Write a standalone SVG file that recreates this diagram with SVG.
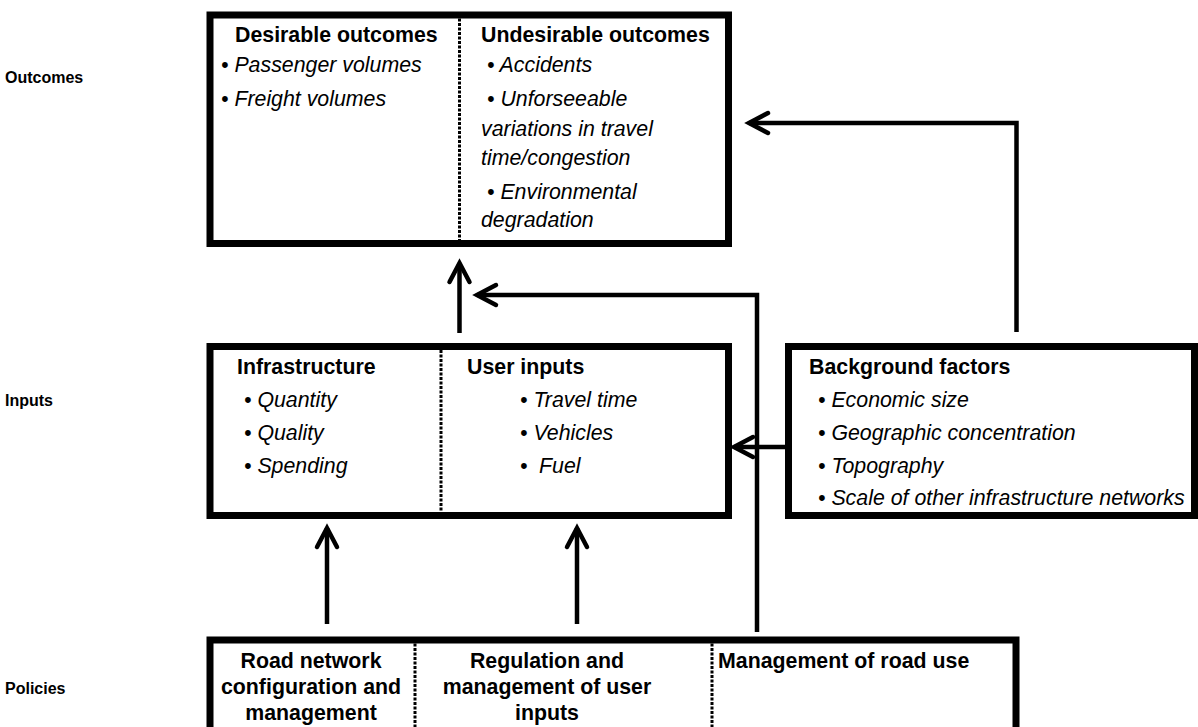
<svg xmlns="http://www.w3.org/2000/svg" width="1198" height="727" viewBox="0 0 1198 727">
<style>
.box{fill:#fff;stroke:#000;stroke-width:7}
.div{stroke:#000;stroke-width:3;stroke-dasharray:3 1.5}
.h{font-family:"Liberation Sans",Arial,sans-serif;font-weight:bold;font-size:21.33px;fill:#000}
.i{font-family:"Liberation Sans",Arial,sans-serif;font-style:italic;font-size:21.33px;fill:#000}
.lab{font-family:"Liberation Sans",Arial,sans-serif;font-weight:bold;font-size:16px;fill:#000}
.c{fill:none;stroke:#000;stroke-width:4.5}
</style>
<defs>
<marker id="ah" markerUnits="userSpaceOnUse" viewBox="-26 -15 30 30" refX="0" refY="0" markerWidth="30" markerHeight="30" orient="auto" overflow="visible">
<path d="M-19,-10 L0,0 L-19,10" fill="none" stroke="#000" stroke-width="4.5" stroke-linecap="round"/>
</marker>
</defs>
<rect width="1198" height="727" fill="#fff"/>
<g id="labels">
<text class="lab" x="5" y="83">Outcomes</text>
<text class="lab" x="5" y="406">Inputs</text>
<text class="lab" x="5" y="694">Policies</text>
</g>
<g id="outcomes">
<rect class="box" x="210" y="15" width="518.5" height="228.5"/>
<line class="div" x1="459.5" y1="18.5" x2="459.5" y2="240"/>
<text class="h" x="235" y="42">Desirable outcomes</text>
<text class="i" x="221" y="72">• Passenger volumes</text>
<text class="i" x="221" y="106">• Freight volumes</text>
<text class="h" x="481" y="42">Undesirable outcomes</text>
<text class="i" x="487" y="72">• Accidents</text>
<text class="i" x="487" y="106">• Unforseeable</text>
<text class="i" x="481" y="136">variations in travel</text>
<text class="i" x="481" y="165">time/congestion</text>
<text class="i" x="487" y="199">• Environmental</text>
<text class="i" x="481" y="227">degradation</text>
</g>
<g id="inputs">
<rect class="box" x="210" y="346.5" width="518.5" height="169"/>
<line class="div" x1="441" y1="350" x2="441" y2="512"/>
<text class="h" x="237" y="374">Infrastructure</text>
<text class="i" x="244" y="407">• Quantity</text>
<text class="i" x="244" y="440">• Quality</text>
<text class="i" x="244" y="473">• Spending</text>
<text class="h" x="467" y="374">User inputs</text>
<text class="i" x="520" y="407">• Travel time</text>
<text class="i" x="520" y="440">• Vehicles</text>
<text class="i" x="520" y="473">•</text>
<text class="i" x="539" y="473">Fuel</text>
</g>
<g id="background">
<rect class="box" x="788.5" y="346.5" width="406" height="169"/>
<text class="h" x="809" y="374">Background factors</text>
<text class="i" x="818" y="407">• Economic size</text>
<text class="i" x="818" y="440">• Geographic concentration</text>
<text class="i" x="818" y="473">• Topography</text>
<text class="i" x="818" y="505">• Scale of other infrastructure networks</text>
</g>
<g id="policies">
<rect class="box" x="210" y="640" width="806" height="110"/>
<line class="div" x1="415" y1="643.5" x2="415" y2="727"/>
<line class="div" x1="712" y1="643.5" x2="712" y2="727"/>
<text class="h" x="311" y="668" text-anchor="middle">Road network</text>
<text class="h" x="311" y="694" text-anchor="middle">configuration and</text>
<text class="h" x="311" y="720" text-anchor="middle">management</text>
<text class="h" x="547" y="668" text-anchor="middle">Regulation and</text>
<text class="h" x="547" y="694" text-anchor="middle">management of user</text>
<text class="h" x="547" y="720" text-anchor="middle">inputs</text>
<text class="h" x="718" y="668">Management of road use</text>
</g>
<g id="connectors">
<line class="c" x1="459.5" y1="333" x2="459.5" y2="263" marker-end="url(#ah)"/>
<polyline class="c" points="757,632 757,295 477,295" marker-end="url(#ah)"/>
<polyline class="c" points="1016.5,332 1016.5,123 749,123" marker-end="url(#ah)"/>
<line class="c" x1="786" y1="447" x2="734" y2="447" marker-end="url(#ah)"/>
<line class="c" x1="327" y1="624" x2="327" y2="528" marker-end="url(#ah)"/>
<line class="c" x1="577" y1="624" x2="577" y2="528" marker-end="url(#ah)"/>
</g>
</svg>
